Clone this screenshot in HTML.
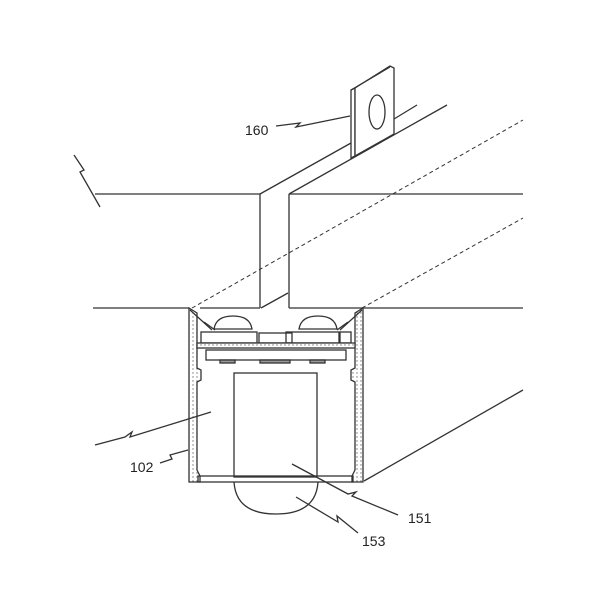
<!DOCTYPE html>
<html><head><style>body{margin:0;background:#fff}svg{display:block}</style></head><body>
<svg width="600" height="600" viewBox="0 0 600 600" xmlns="http://www.w3.org/2000/svg" font-family="Liberation Sans, sans-serif">
<defs>
<pattern id="dots" width="4" height="4" patternUnits="userSpaceOnUse"><rect width="4" height="4" fill="#fff"/><circle cx="1" cy="1" r="0.7" fill="#777"/></pattern>
</defs>
<rect width="600" height="600" fill="#fff"/>
<g stroke="#333" stroke-width="1.3" fill="none">
<line x1="95" y1="194" x2="260" y2="194"/>
<line x1="289" y1="194" x2="523" y2="194"/>
<line x1="93" y1="308" x2="189" y2="308"/>
<line x1="200" y1="308" x2="260" y2="308"/>
<line x1="289" y1="308" x2="523" y2="308"/>
<line x1="260" y1="194" x2="260" y2="308"/>
<line x1="289" y1="194" x2="289" y2="308"/>
<line x1="261" y1="308" x2="288" y2="293"/>
<line x1="260" y1="194" x2="351" y2="143"/>
<line x1="394" y1="119" x2="417" y2="105"/>
<line x1="289" y1="194" x2="447" y2="105"/>
<path d="M74 155 L84 170 L80 172 L100 207"/>
<polygon points="351,90 355,88 355,156 351,158" fill="#fff"/>
<polygon points="355,88 390,66 394,68 394,134 355,156" fill="#fff"/>
<line x1="351" y1="90" x2="390" y2="67"/>
<ellipse cx="377" cy="112" rx="8" ry="17"/>
<g stroke-dasharray="4,3" stroke-width="1">
<line x1="192" y1="308" x2="523" y2="120"/>
<line x1="362" y1="308" x2="523" y2="218"/>
</g>
<!-- housing walls -->
<path d="M189 308 L189 482 L200 482 L200 476 L197 470 L197 382 L201 380 L201 370 L197 368 L197 313 Z" fill="url(#dots)"/>
<path d="M363 308 L363 482 L352 482 L352 476 L355 470 L355 382 L351 380 L351 370 L355 368 L355 313 Z" fill="url(#dots)"/>
<path d="M190 310 L212 330 M362 310 L340 330"/>
<path d="M204 322 L215 330 M348 322 L337 330"/>
<line x1="364" y1="481" x2="523" y2="390"/>
<path d="M214 329 Q216 316 233 316 Q250 316 252 329 Z"/>
<path d="M299 329 Q301 316 318 316 Q335 316 337 329 Z"/>
<rect x="201" y="332" width="56" height="11"/>
<rect x="259" y="333" width="33" height="10"/>
<rect x="286" y="332" width="53" height="11"/>
<rect x="340" y="332" width="11" height="11"/>
<rect x="197" y="343" width="158" height="5" fill="url(#dots)"/>
<rect x="206" y="350" width="140" height="10"/>
<rect x="220" y="360" width="15" height="3" fill="#999"/>
<rect x="260" y="360" width="30" height="3" fill="#999"/>
<rect x="310" y="360" width="15" height="3" fill="#999"/>
<rect x="234" y="373" width="83" height="104"/>
<rect x="198" y="476" width="155" height="6"/>
<path d="M234 482 Q236 514 276 514 Q316 514 318 482"/>
<path d="M95 445 L125 437 L132 432 L130 437 L211 412"/>
<path d="M160 463 L172 459 L170 455 L188 450"/>
<path d="M276 126 L300 123 L296 127 L350 116"/>
<path d="M292 464 L348 494 L356 492 L352 496 L398 515"/>
<path d="M296 497 L338 522 L337 516 L358 533"/>
</g>
<g font-size="14" fill="#222">
<text x="245" y="135">160</text>
<text x="130" y="472">102</text>
<text x="408" y="523">151</text>
<text x="362" y="546">153</text>
</g>
</svg>
</body></html>
